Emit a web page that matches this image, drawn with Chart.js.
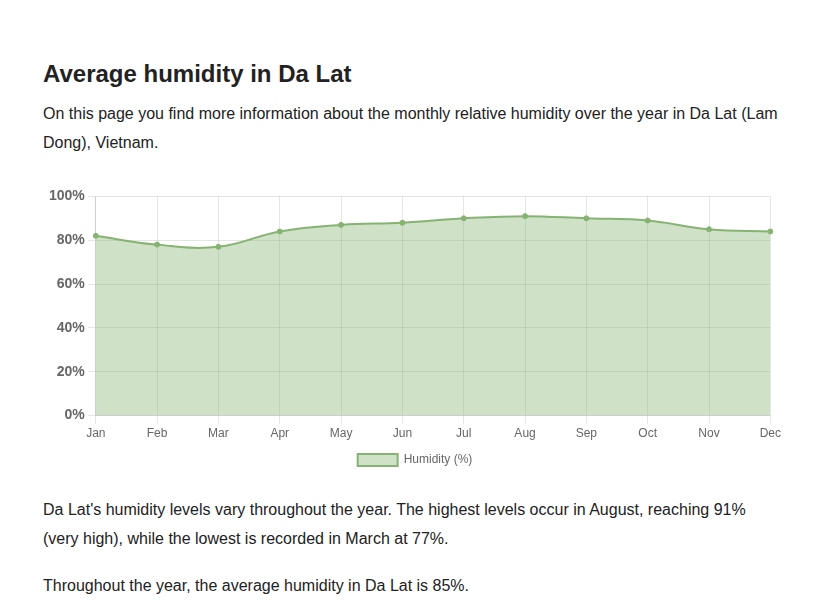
<!DOCTYPE html>
<html>
<head>
<meta charset="utf-8">
<script src="https://cdn.jsdelivr.net/npm/chart.js@4/dist/chart.umd.min.js"></script>
<style>
  html, body { margin: 0; padding: 0; background: #fff; }
  body { font-family: "Liberation Sans", Arial, sans-serif; color: #222; width: 834px; height: 615px; overflow: hidden; }
  .wrap { position: absolute; left: 43px; top: 0; width: 748px; }
  h1 { position: absolute; top: 59px; left: 0; margin: 0; font-size: 24px; font-weight: bold; line-height: 30px; white-space: nowrap; }
  p { margin: 0; font-size: 16px; line-height: 29px; }
  #intro { position: absolute; top: 99px; left: 0; width: 738px; }
  #chartBox { position: absolute; top: 185px; left: 3px; width: 738px; height: 291px; }
  #after1 { position: absolute; top: 495px; left: 0; width: 738px; }
  #after2 { position: absolute; top: 571px; left: 0; width: 738px; }
</style>
</head>
<body>
<div class="wrap">
  <h1>Average humidity in Da Lat</h1>
  <p id="intro">On this page you find more information about the monthly relative humidity over the year in Da Lat (Lam Dong), Vietnam.</p>
  <div id="chartBox"><canvas id="c"></canvas></div>
  <p id="after1">Da Lat's humidity levels vary throughout the year. The highest levels occur in August, reaching 91% (very high), while the lowest is recorded in March at 77%.</p>
  <p id="after2">Throughout the year, the average humidity in Da Lat is 85%.</p>
</div>
<script>
const months = ["Jan","Feb","Mar","Apr","May","Jun","Jul","Aug","Sep","Oct","Nov","Dec"];
const humidity = [82, 78, 77, 84, 87, 88, 90, 91, 90, 89, 85, 84];
const seriesLabel = "Humidity (%)";

new Chart(document.getElementById('c'), {
  type: 'line',
  data: {
    labels: months,
    datasets: [{
      label: seriesLabel,
      data: humidity,
      borderColor: 'rgb(134,179,114)',
      backgroundColor: 'rgba(134,179,114,0.4)',
      fill: true,
      tension: 0.4,
      borderWidth: 2,
      pointRadius: 2.5,
      pointBorderWidth: 1,
      pointBackgroundColor: 'rgb(134,179,114)',
      pointBorderColor: 'rgb(134,179,114)'
    }]
  },
  options: {
    responsive: true,
    maintainAspectRatio: false,
    animation: false,
    plugins: {
      legend: {
        position: 'bottom',
        labels: { color: '#666', font: { family: 'Liberation Sans', size: 12 }, boxWidth: 40, boxHeight: 12 }
      },
      tooltip: { enabled: false }
    },
    scales: {
      x: {
        grid: { color: 'rgba(0,0,0,0.1)' },
        ticks: { color: '#666', font: { family: 'Liberation Sans', size: 12 } }
      },
      y: {
        min: 0, max: 100,
        grid: { color: 'rgba(0,0,0,0.1)' },
        ticks: {
          stepSize: 20,
          color: '#666',
          font: { family: 'Liberation Sans', size: 14, weight: 'bold' },
          callback: v => v + '%'
        }
      }
    }
  }
});
</script>
</body>
</html>
